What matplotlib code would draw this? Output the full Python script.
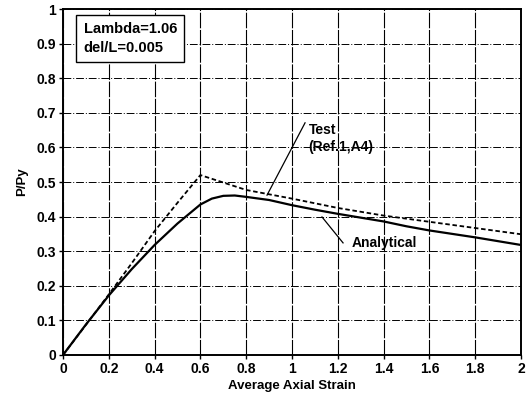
"""Load-strain curve: test vs analytical"""

import matplotlib
matplotlib.use('Agg')
from matplotlib import pyplot as plt

# Test curve (dashed)
test_strain = [0.0, 0.1, 0.2, 0.3, 0.4, 0.5, 0.6, 0.8, 1.0, 1.2, 1.4, 1.6, 1.8, 2.0]
test_load = [0.0, 0.087, 0.175, 0.265, 0.358, 0.44, 0.52, 0.477, 0.452, 0.425, 0.403,
             0.385, 0.367, 0.349]

# Analytical curve (solid)
ana_strain = [0.0, 0.1, 0.2, 0.3, 0.4, 0.5, 0.6, 0.65, 0.7, 0.75, 0.8, 0.9, 1.0, 1.1,
              1.2, 1.3, 1.4, 1.5, 1.6, 1.7, 1.8, 1.9, 2.0]
ana_load = [0.0, 0.088, 0.172, 0.248, 0.318, 0.38, 0.435, 0.452, 0.46, 0.461, 0.457,
            0.448, 0.433, 0.42, 0.408, 0.397, 0.386, 0.372, 0.36, 0.35, 0.34, 0.329, 0.318]

x_ticks = [0, 0.2, 0.4, 0.6, 0.8, 1, 1.2, 1.4, 1.6, 1.8, 2]
x_tick_labels = ['0', '0.2', '0.4', '0.6', '0.8', '1', '1.2', '1.4', '1.6', '1.8', '2']
y_ticks = [0, 0.1, 0.2, 0.3, 0.4, 0.5, 0.6, 0.7, 0.8, 0.9, 1]
y_tick_labels = ['0', '0.1', '0.2', '0.3', '0.4', '0.5', '0.6', '0.7', '0.8', '0.9', '1']

plt.rcParams['font.family'] = ['Liberation Sans', 'DejaVu Sans']
plt.rcParams['font.weight'] = 'bold'

fig = plt.figure(figsize=(5.32, 3.97), dpi=100)
ax = fig.add_axes([0.1184, 0.1058, 0.8609, 0.8715])

ax.plot(test_strain, test_load, color='black', linestyle=(0, (2.5, 1.5)), linewidth=1.3)
ax.plot(ana_strain, ana_load, color='black', linestyle='-', linewidth=1.6)

ax.set_xlim(0, 2)
ax.set_ylim(0, 1)
ax.set_xticks(x_ticks)
ax.set_xticklabels(x_tick_labels)
ax.set_yticks(y_ticks)
ax.set_yticklabels(y_tick_labels)
ax.tick_params(direction='out', length=3, width=1, labelsize=10, pad=2)
for spine in ax.spines.values():
    spine.set_linewidth(1.4)

ax.xaxis.grid(True, color='black', linestyle=(0, (14, 1.5)), linewidth=0.8)
ax.yaxis.grid(True, color='black', linestyle=(0, (8, 2, 1, 2)), linewidth=0.7)

ax.set_xlabel('Average Axial Strain', fontsize=9.5, fontweight='bold', labelpad=3)
ax.set_ylabel('P/Py', fontsize=9.5, fontweight='bold', labelpad=6)

# parameter box
ax.text(0.045, 0.962, 'Lambda=1.06\ndel/L=0.005', transform=ax.transAxes, fontsize=10.5,
        fontweight='bold', va='top', ha='left', linespacing=1.45,
        bbox=dict(boxstyle='square,pad=0.5', facecolor='white', edgecolor='black',
                  linewidth=1.0))

# callouts
ax.plot([1.057, 0.891], [0.671, 0.462], color='black', linewidth=0.9)
ax.text(1.074, 0.65, 'Test', fontsize=10, fontweight='bold', va='center', ha='left')
ax.text(1.07, 0.60, '(Ref.1,A4)', fontsize=10, fontweight='bold', va='center', ha='left')
ax.plot([1.131, 1.223], [0.399, 0.324], color='black', linewidth=0.9)
ax.text(1.262, 0.324, 'Analytical', fontsize=10, fontweight='bold', va='center', ha='left')

fig.savefig('out.png', dpi=100)
